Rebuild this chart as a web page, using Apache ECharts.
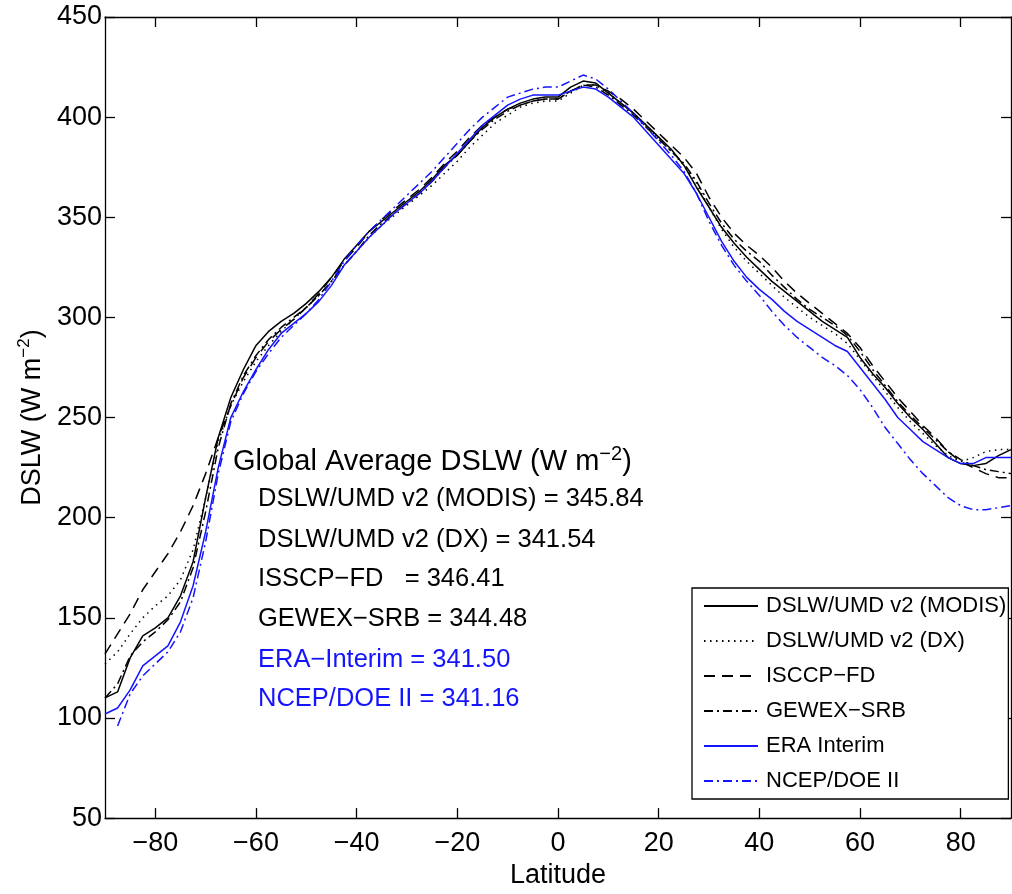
<!DOCTYPE html>
<html>
<head>
<meta charset="utf-8">
<script src="https://cdn.jsdelivr.net/npm/echarts@6/dist/echarts.min.js"></script>
<style>
  html, body { margin: 0; padding: 0; background: #fff; }
  #chart { width: 1012px; height: 894px; }
</style>
</head>
<body>
<div id="chart"></div>
<script>
// latitude grid (deg)
var lat = [-90, -87.5, -85, -82.5, -80, -77.5, -75, -72.5, -70, -67.5, -65, -62.5, -60, -57.5, -55, -52.5,
  -50, -47.5, -45, -42.5, -40, -37.5, -35, -32.5, -30, -27.5, -25, -22.5, -20, -17.5, -15, -12.5,
  -10, -7.5, -5, -2.5, 0, 2.5, 5, 7.5, 10, 12.5, 15, 17.5, 20, 22.5, 25, 27.5,
  30, 32.5, 35, 37.5, 40, 42.5, 45, 47.5, 50, 52.5, 55, 57.5, 60, 62.5, 65, 67.5,
  70, 72.5, 75, 77.5, 80, 82.5, 85, 87.5, 90]

// zonal mean DSLW (W m-2)
var modis = [110, 113, 130, 141, 145, 150, 161, 178, 210, 240, 260, 274, 286, 293, 298, 302,
  307, 313, 320, 329, 336, 343, 348, 353, 358, 363, 369, 376, 381, 388, 395, 400,
  404, 407, 409, 410, 410, 415, 418, 417, 412, 407, 402, 396, 390, 384, 376, 365,
  355, 345, 337, 330, 324, 318, 313, 308, 303, 298, 294, 290, 280, 272, 265, 257,
  250, 244, 237, 230, 227, 226, 227, 231, 234]
var dx = [127, 133, 142, 150, 156, 161, 169, 184, 210, 238, 256, 268, 278, 286, 293, 299,
  305, 311, 318, 326, 333, 340, 346, 351, 356, 361, 366, 372, 378, 385, 391, 397,
  401, 405, 407, 408, 408, 412, 416, 416, 412, 407, 402, 396, 389, 383, 376, 367,
  355, 344, 335, 328, 322, 316, 310, 305, 300, 296, 292, 287, 279, 271, 263, 255,
  248, 242, 236, 231, 228, 230, 233, 234, 234]
var isccp = [132, 142, 152, 164, 173, 182, 193, 206, 222, 240, 256, 270, 280, 288, 294, 299,
  305, 312, 320, 328, 335, 343, 349, 354, 359, 364, 370, 377, 383, 390, 396, 400,
  404, 406, 408, 409, 409, 413, 416, 416, 413, 409, 404, 398, 392, 386, 380, 372,
  360, 350, 342, 336, 331, 325, 318, 312, 307, 302, 297, 292, 285, 276, 268, 260,
  253, 246, 240, 233, 228, 225, 222, 220, 220]
var gewex = [110, 117, 131, 138, 143, 149, 158, 175, 203, 235, 257, 271, 281, 289, 295, 300,
  305, 311, 318, 326, 333, 341, 347, 352, 357, 362, 368, 375, 381, 388, 394, 399,
  403, 406, 408, 409, 409, 413, 416, 415, 411, 406, 401, 395, 389, 383, 377, 368,
  357, 347, 339, 333, 328, 321, 315, 309, 304, 300, 296, 291, 283, 274, 266, 258,
  251, 245, 239, 233, 229, 226, 224, 223, 222]
var era = [102, 105, 114, 126, 131, 136, 148, 166, 193, 225, 250, 263, 274, 284, 292, 297,
  302, 308, 316, 326, 333, 340, 346, 352, 357, 362, 368, 375, 382, 389, 396, 401,
  406, 409, 411, 411, 411, 413, 415, 414, 410, 405, 400, 393, 386, 379, 372, 362,
  350, 338, 328, 320, 314, 309, 303, 298, 294, 290, 286, 283, 275, 267, 259, 250,
  244, 238, 234, 230, 227, 227, 230, 230, 230]
var ncep = [null, 96, 112, 121, 127, 133, 143, 160, 188, 222, 248, 262, 273, 282, 290, 296,
  302, 309, 318, 328, 336, 343, 349, 355, 361, 367, 373, 380, 387, 394, 400, 405,
  410, 412, 414, 415, 415, 418, 421, 419, 414, 408, 402, 395, 388, 381, 373, 362,
  348, 336, 326, 318, 311, 303, 296, 290, 285, 280, 276, 271, 264, 255, 245, 237,
  229, 222, 216, 210, 206, 204, 204, 205, 206]

var names = ['DSLW/UMD v2 (MODIS)', 'DSLW/UMD v2 (DX)', 'ISCCP\u2212FD', 'GEWEX\u2212SRB', 'ERA Interim', 'NCEP/DOE II']
var xTicks = [-80, -60, -40, -20, 0, 20, 40, 60, 80]

var FONT = 'Liberation Sans, Arial, Helvetica, sans-serif'
var BLUE = '#1414ff'

function pairs(v) {
  return lat.map(function (x, i) { return [x, v[i]] })
}
function mk(name, data, color, type, width) {
  return {
    name: name,
    type: 'line',
    data: pairs(data),
    showSymbol: false,
    symbol: 'none',
    connectNulls: false,
    animation: false,
    lineStyle: { color: color, width: width, type: type },
    itemStyle: { color: color }
  }
}

var chart = echarts.init(document.getElementById('chart'))

var axLine = { show: true, onZero: false, lineStyle: { color: '#000', width: 1.3 } }
var tickStyle = { color: '#000', width: 1.3 }

chart.setOption({
  backgroundColor: '#fff',
  animation: false,
  grid: { left: 105, right: 1, top: 17, bottom: 73 },
  legend: {
    orient: 'vertical',
    left: 692,
    top: 588,
    padding: [7, 2, 7, 11],
    itemGap: 13,
    itemWidth: 54,
    itemHeight: 14,
    backgroundColor: '#fff',
    borderColor: '#000',
    borderWidth: 1.3,
    borderRadius: 0,
    itemStyle: { opacity: 0 },
    textStyle: { fontFamily: FONT, fontSize: 22, color: '#000', padding: [0, 0, 0, 3] },
    data: names
  },
  xAxis: [{
    type: 'value',
    min: -90,
    max: 90,
    position: 'bottom',
    name: 'Latitude',
    nameLocation: 'middle',
    nameGap: 43,
    nameTextStyle: { fontFamily: FONT, fontSize: 27, color: '#000' },
    axisLine: axLine,
    splitLine: { show: false },
    axisTick: { inside: true, length: 10, customValues: xTicks, lineStyle: tickStyle },
    axisLabel: {
      customValues: xTicks,
      margin: 12,
      fontFamily: FONT, fontSize: 27, color: '#000',
      formatter: function (v) { return String(v).replace('-', '\u2212') }
    }
  }, {
    type: 'value',
    min: -90,
    max: 90,
    position: 'top',
    axisLine: axLine,
    splitLine: { show: false },
    axisTick: { inside: true, length: 10, customValues: xTicks, lineStyle: tickStyle },
    axisLabel: { show: false }
  }],
  yAxis: [{
    type: 'value',
    min: 50,
    max: 450,
    interval: 50,
    position: 'left',
    name: '{a|DSLW (W m}{s|\u22122}{a|)}',
    nameLocation: 'middle',
    nameGap: 56,
    nameRotate: 90,
    nameTextStyle: {
      fontFamily: FONT, fontSize: 27, color: '#000',
      rich: {
        a: { fontFamily: FONT, fontSize: 27, color: '#000' },
        s: { fontFamily: FONT, fontSize: 17, color: '#000', padding: [0, 0, 16, 0] }
      }
    },
    axisLine: axLine,
    splitLine: { show: false },
    axisTick: { inside: true, length: 10, lineStyle: tickStyle },
    axisLabel: { margin: 3, fontFamily: FONT, fontSize: 27, color: '#000' }
  }, {
    type: 'value',
    min: 50,
    max: 450,
    interval: 50,
    position: 'right',
    axisLine: axLine,
    splitLine: { show: false },
    axisTick: { inside: true, length: 10, lineStyle: tickStyle },
    axisLabel: { show: false }
  }],
  graphic: [
    {
      type: 'text', left: 233, top: 444,
      style: {
        text: '{a|Global Average DSLW (W m}{s|\u22122}{a|)}',
        rich: {
          a: { fontFamily: FONT, fontSize: 29, fill: '#000' },
          s: { fontFamily: FONT, fontSize: 20, fill: '#000', padding: [0, 0, 16, 0] }
        }
      }
    },
    { type: 'text', left: 258, top: 486, style: { text: 'DSLW/UMD v2 (MODIS) = 345.84', font: '25.5px ' + FONT, fill: '#000' } },
    { type: 'text', left: 258, top: 527, style: { text: 'DSLW/UMD v2 (DX) = 341.54', font: '25.5px ' + FONT, fill: '#000' } },
    { type: 'text', left: 258, top: 566, style: { text: 'ISSCP\u2212FD   = 346.41', font: '25.5px ' + FONT, fill: '#000' } },
    { type: 'text', left: 258, top: 606, style: { text: 'GEWEX\u2212SRB = 344.48', font: '25.5px ' + FONT, fill: '#000' } },
    { type: 'text', left: 258, top: 647, style: { text: 'ERA\u2212Interim = 341.50', font: '25.5px ' + FONT, fill: BLUE } },
    { type: 'text', left: 258, top: 686, style: { text: 'NCEP/DOE II = 341.16', font: '25.5px ' + FONT, fill: BLUE } }
  ],
  series: [
    mk(names[0], modis, '#000', 'solid', 1.5),
    mk(names[1], dx, '#000', [1.5, 4.5], 1.5),
    mk(names[2], isccp, '#000', [11, 7], 1.5),
    mk(names[3], gewex, '#000', [9, 4, 2, 4], 1.5),
    mk(names[4], era, BLUE, 'solid', 1.5),
    mk(names[5], ncep, BLUE, [9, 4, 2, 4], 1.5)
  ]
})
</script>
</body>
</html>
